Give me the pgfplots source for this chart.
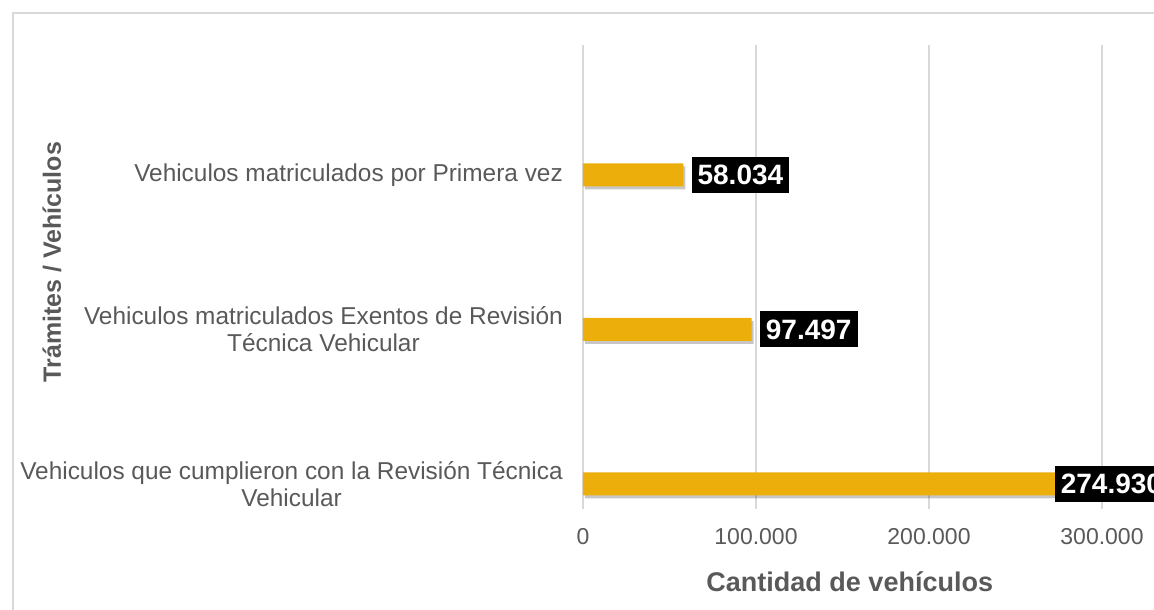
\documentclass[border=0pt]{standalone}
\usepackage{fontspec}
\setmainfont{Liberation Sans}
\usepackage{pgfplots}
\pgfplotsset{compat=1.18}
\usetikzlibrary{shadows}
\definecolor{txt}{HTML}{595959}
\definecolor{gridc}{HTML}{D9D9D9}
\definecolor{gmid}{HTML}{EBAE0A}
\begin{document}
\begin{tikzpicture}[x=1pt,y=1pt]
\useasboundingbox (0,0) rectangle (1154,610);
\clip (0,0) rectangle (1154,610);
\draw[gridc, line width=2pt] (13,-20) -- (13,597) -- (1200,597);
\begin{axis}[
  at={(583pt,101pt)}, anchor=south west, scale only axis,
  width=519pt, height=464pt,
  xmin=0, xmax=300000, ymin=-0.162, ymax=2.84,
  clip=false, scaled x ticks=false,
  axis line style={draw=none}, tick style={draw=none},
  xmajorgrids, major grid style={gridc, line width=1.8pt},
  xtick={0,100000,200000,300000},
  xticklabels={0,100.000,200.000,300.000},
  ytick={0,1,2},
  yticklabels={{Vehiculos que cumplieron con la Revisión Técnica\\Vehicular},{Vehiculos matriculados Exentos de Revisión\\Técnica Vehicular},{Vehiculos matriculados por Primera vez}},
  xticklabel style={font=\fontsize{23}{26}\selectfont, text=txt, anchor=base, yshift=-36pt},
  yticklabel style={font=\fontsize{24.4}{27}\selectfont, text=txt, align=center, anchor=east, inner sep=0pt, xshift=-20pt},
  xlabel={Cantidad de vehículos},
  ylabel={Trámites / Vehículos},
  every axis x label/.style={at={(axis description cs:0.514,-0.157)}, anchor=center, font=\bfseries\fontsize{27}{30}\selectfont, text=txt},
  every axis y label/.style={at={(axis description cs:-1.023,0.532)}, rotate=90, anchor=center, font=\bfseries\fontsize{25}{30}\selectfont, text=txt},
]
\addplot[xbar, bar width=23pt, draw=none, fill=gmid,
  drop shadow={shadow xshift=2pt, shadow yshift=-3pt, opacity=0.22, fill=black},
  visualization depends on={value \coordindex \as \idx},
  nodes near coords={\pgfmathprintnumber[fixed,precision=0,1000 sep={.},assume math mode=true]{\pgfplotspointmeta}},
  nodes near coords style={font=\bfseries\fontsize{28}{28}\selectfont, text=white, fill=black, inner xsep=6pt, inner ysep=8pt, text height=20pt, text depth=0pt, anchor=west, xshift={ifthenelse(\idx==0,-4,8)}},
] coordinates {(274930,0) (97497,1) (58034,2)};
\end{axis}
\end{tikzpicture}
\end{document}
